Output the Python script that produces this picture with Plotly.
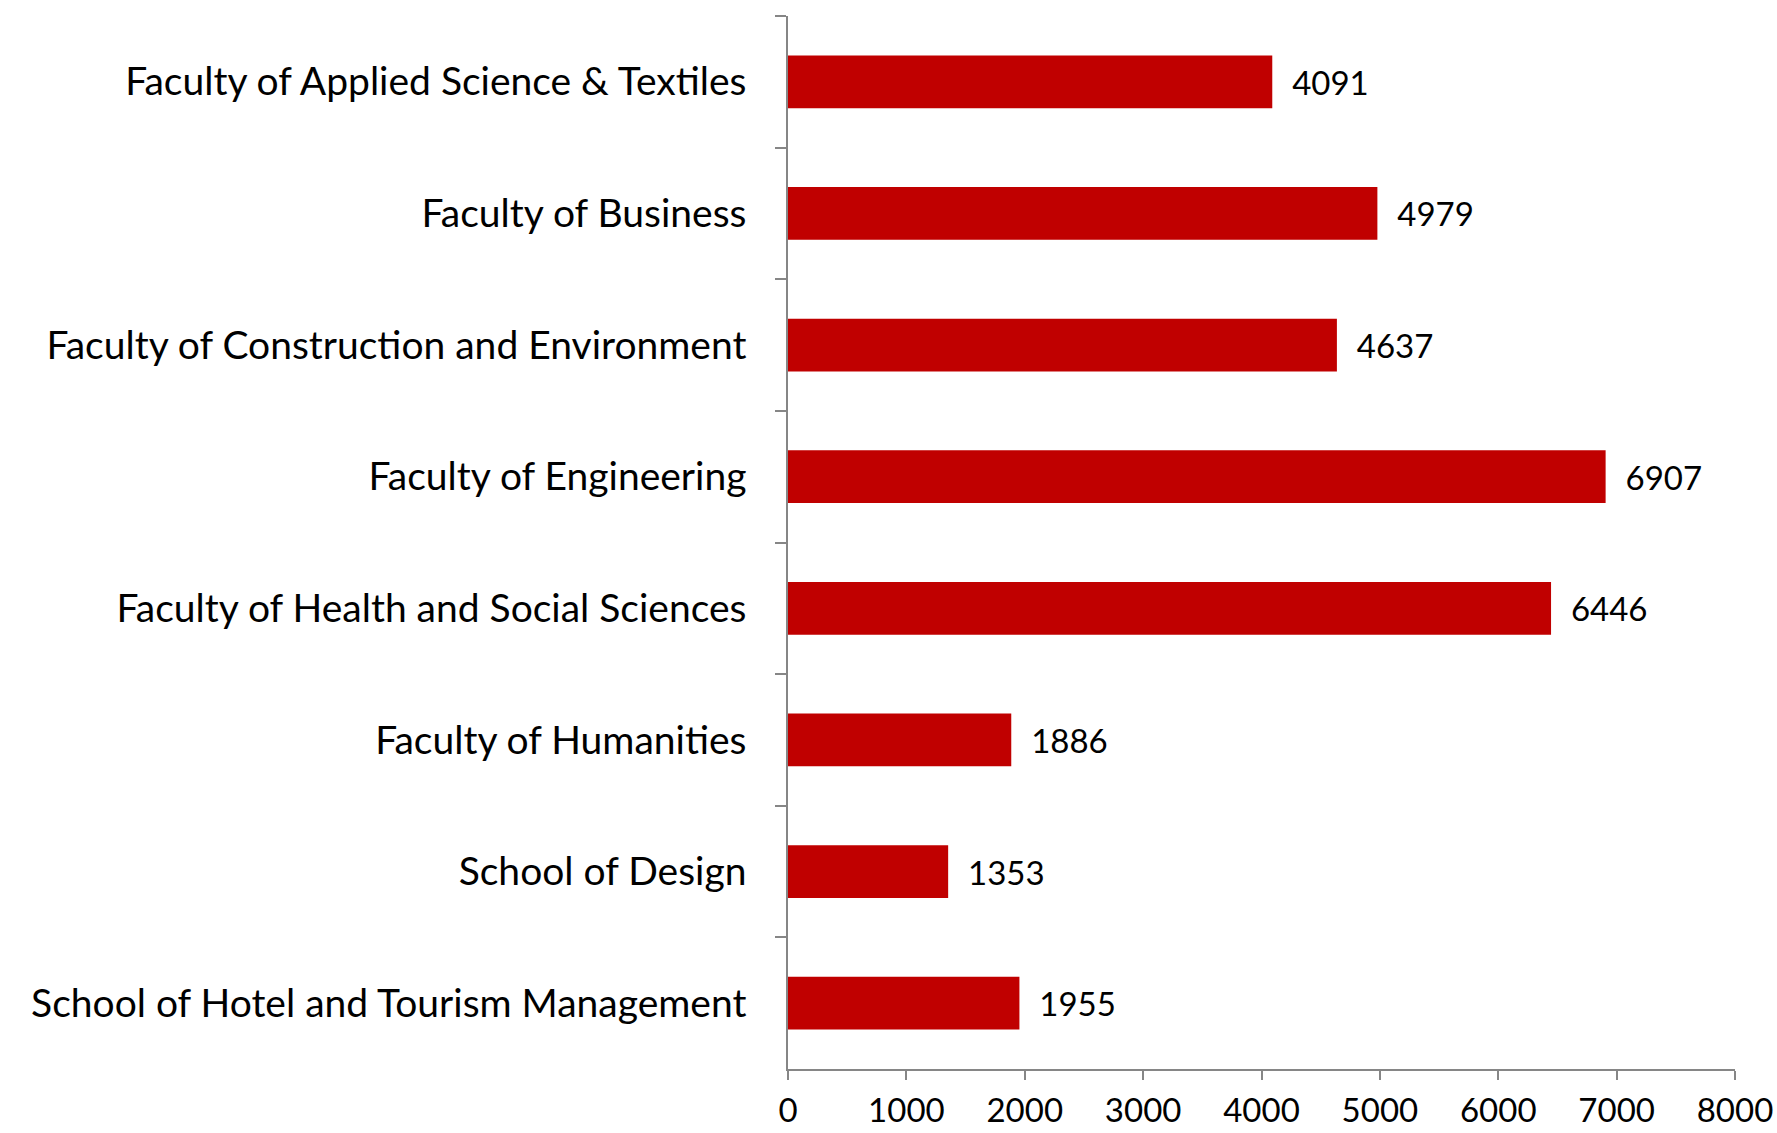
import plotly.graph_objects as go

categories = [
    "Faculty of Applied Science & Textiles",
    "Faculty of Business",
    "Faculty of Construction and Environment",
    "Faculty of Engineering",
    "Faculty of Health and Social Sciences",
    "Faculty of Humanities",
    "School of Design",
    "School of Hotel and Tourism Management",
]
values = [4091, 4979, 4637, 6907, 6446, 1886, 1353, 1955]
x_ticks = [0, 1000, 2000, 3000, 4000, 5000, 6000, 7000, 8000]

FONT = "Lato"
LABEL_SIZE = 39
NUM_SIZE = 33
AXIS = "#868686"

fig = go.Figure(
    go.Bar(
        y=categories,
        x=values,
        orientation="h",
        marker=dict(color="#C00000", line=dict(width=0)),
        text=[str(v) for v in values],
        texttemplate="  %{text}",
        textposition="outside",
        textfont=dict(family=FONT, size=NUM_SIZE, color="#000000"),
        cliponaxis=False,
        width=0.4,
    )
)

fig.update_layout(
    width=1777,
    height=1133,
    paper_bgcolor="white",
    plot_bgcolor="white",
    margin=dict(l=788, r=42, t=16, b=64),
    showlegend=False,
    font=dict(family=FONT, size=NUM_SIZE, color="#000000"),
)

fig.update_xaxes(
    range=[0, 8000],
    tickvals=x_ticks,
    ticktext=[str(t) for t in x_ticks],
    showgrid=False,
    zeroline=False,
    showline=True,
    linecolor=AXIS,
    linewidth=1.5,
    ticks="outside",
    ticklen=9,
    tickcolor=AXIS,
    tickwidth=1.5,
    ticklabelstandoff=3,
    automargin=False,
    tickfont=dict(family=FONT, size=NUM_SIZE, color="#000000"),
)

fig.update_yaxes(
    autorange="reversed",
    showgrid=False,
    zeroline=False,
    showline=True,
    linecolor=AXIS,
    linewidth=1.5,
    ticks="outside",
    tickson="boundaries",
    ticklen=11,
    tickcolor=AXIS,
    tickwidth=1.5,
    ticklabelstandoff=32,
    automargin=False,
    tickfont=dict(family=FONT, size=LABEL_SIZE, color="#000000"),
)

fig.write_html(
    "out.html",
    config={"displayModeBar": False},
    post_script="document.body.style.margin='0';",
)
